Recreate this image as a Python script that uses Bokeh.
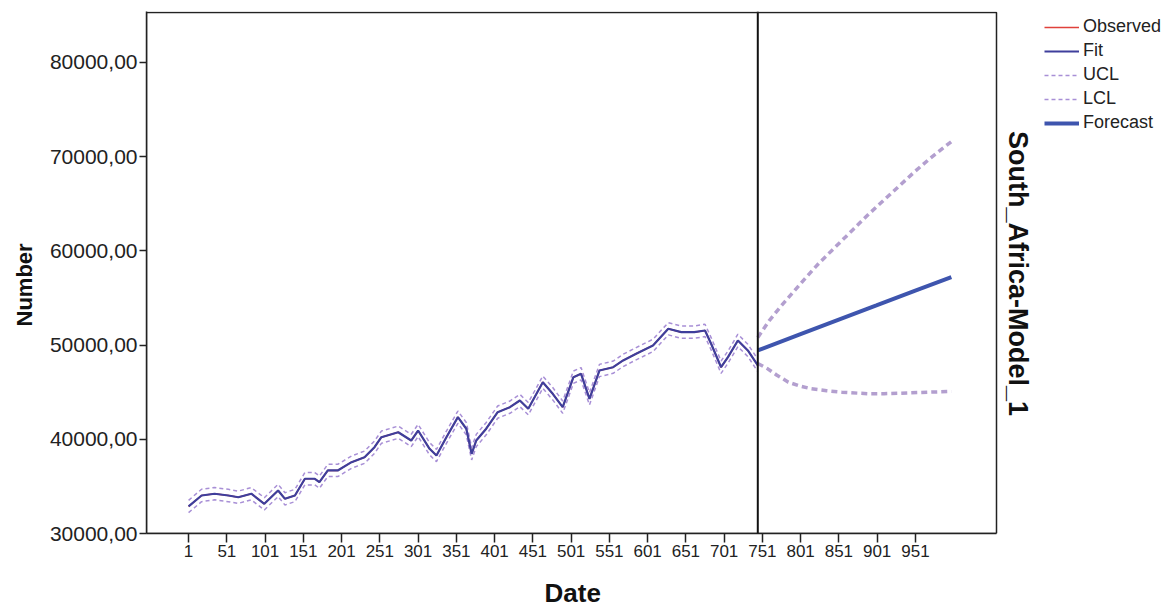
import math
from bokeh.plotting import figure
from bokeh.models import Range1d, FixedTicker, Span, Legend, LegendItem, Title, Label, BoxAnnotation
from bokeh.embed import file_html
from bokeh.resources import INLINE

# ---------------- data ----------------
hist_dates = [1, 18, 35, 53, 66, 83, 100, 118, 127, 140, 153, 166, 172, 183, 196, 214, 231, 244, 253, 275,
              292, 301, 316, 325, 338, 353, 364, 371, 377, 390, 405, 421, 434, 445, 464, 477, 490, 504, 514, 525,
              538, 556, 569, 586, 608, 628, 645, 662, 676, 684, 697, 706, 719, 732, 745]
observed = [32870, 34030, 34220, 34030, 33850, 34220, 33150, 34570, 33680, 34030, 35810, 35810, 35450, 36690,
            36690, 37570, 38100, 39160, 40220, 40750, 39870, 40930, 38990, 38280, 40220, 42350, 41120, 38460,
            39870, 41120, 42880, 43410, 44120, 43240, 46060, 44830, 43410, 46590, 46950, 44300, 47300, 47650,
            48370, 49080, 49960, 51730, 51370, 51370, 51550, 50140, 47650, 48720, 50490, 49430, 47840]
fit = [32870, 34030, 34220, 34030, 33850, 34220, 33150, 34570, 33680, 34030, 35810, 35810, 35450, 36690,
       36690, 37570, 38100, 39160, 40220, 40750, 39870, 40930, 38990, 38280, 40220, 42350, 41120, 38460,
       39870, 41120, 42880, 43410, 44120, 43240, 46060, 44830, 43410, 46590, 46950, 44300, 47300, 47650,
       48370, 49080, 49960, 51730, 51370, 51370, 51550, 50140, 47650, 48720, 50490, 49430, 47840]
ucl_hist = [33520, 34700, 34880, 34690, 34500, 34870, 33800, 35220, 34330, 34690, 36460, 36470, 36100, 37340,
            37350, 38220, 38750, 39820, 40870, 41400, 40530, 41580, 39650, 38930, 40870, 43000, 41780, 39110,
            40520, 41780, 43530, 44060, 44770, 43900, 46710, 45490, 44060, 47240, 47610, 44960, 47950, 48300,
            49030, 49730, 50620, 52380, 52030, 52020, 52210, 50790, 48310, 49370, 51150, 50080, 48500]
lcl_hist = [32220, 33380, 33570, 33380, 33200, 33570, 32500, 33920, 33030, 33380, 35160, 35160, 34800, 36040,
            36040, 36920, 37450, 38510, 39570, 40100, 39220, 40280, 38340, 37630, 39570, 41700, 40470, 37810,
            39220, 40470, 42230, 42760, 43470, 42590, 45410, 44180, 42760, 45940, 46300, 43650, 46650, 47000,
            47720, 48430, 49310, 51080, 50720, 50720, 50900, 49490, 47000, 48070, 49840, 48780, 47190]

fc_dates = [745, 800, 850, 900, 950, 998]
forecast = [49430, 51130, 52670, 54210, 55760, 57200]
ucl_fc_dates = [745, 760, 775, 790, 805, 825, 850, 870, 890, 910, 930, 950, 970, 998]
ucl_fc = [50800, 52600, 54100, 55500, 56900, 58700, 60700, 62300, 63900, 65400, 66900, 68400, 69800, 71600]
lcl_fc_dates = [745, 758, 770, 785, 800, 815, 835, 855, 875, 890, 910, 932, 955, 975, 998]
lcl_fc = [48050, 47480, 46800, 46060, 45650, 45360, 45150, 45000, 44900, 44830, 44840, 44890, 44960, 45020, 45080]

forecast_origin = 745
date_ticks = [1, 51, 101, 151, 201, 251, 301, 351, 401, 451, 501, 551, 601, 651, 701, 751, 801, 851, 901, 951]
y_ticks = [30000, 40000, 50000, 60000, 70000, 80000]
y_tick_labels = ["30000,00", "40000,00", "50000,00", "60000,00", "70000,00", "80000,00"]

# ---------------- layout constants ----------------
FONT = "Liberation Sans"
X0, X1 = -54, 1057          # visible plot box, data units
Y0, Y1 = 30000, 85300
BOX_W = 850                 # px of the plot box
FRAME_W = 1025              # frame also holds the legend and side title
PX_PER_X = BOX_W / (X1 - X0)
X_END = X0 + FRAME_W / PX_PER_X
PX_PER_Y = 521 / (Y1 - Y0)
Y_END = Y1 + 1 / PX_PER_Y   # one spare pixel above the box

p = figure(frame_width=FRAME_W, frame_height=522,
           x_range=Range1d(X0, X_END), y_range=Range1d(Y0, Y_END),
           output_backend="svg", toolbar_location=None,
           min_border_left=145, min_border_top=11, min_border_bottom=40, min_border_right=0,
           background_fill_color="white", border_fill_color="white")
p.grid.visible = False
p.outline_line_color = None

# plot box
p.add_layout(BoxAnnotation(left=X0, right=X1, bottom=Y0, top=Y1, fill_alpha=0,
                           line_color="#222222", line_alpha=1.0, line_width=1.5, level="overlay"))

# x axis
p.xaxis.bounds = (X0, X1)
p.xaxis.ticker = FixedTicker(ticks=date_ticks)
p.xaxis.minor_tick_line_color = None
p.xaxis.major_tick_in = 0
p.xaxis.major_tick_out = 9
p.xaxis.major_tick_line_width = 1.5
p.xaxis.major_tick_line_color = "#222222"
p.xaxis.axis_line_color = "#222222"
p.xaxis.axis_line_width = 1.5
p.xaxis.major_label_text_font = FONT
p.xaxis.major_label_text_font_size = "17px"
p.xaxis.major_label_text_color = "#222222"
p.xaxis.major_label_standoff = 2

# x axis title, centred under the plot box
p.add_layout(Title(text="Date", align="left", offset=398, standoff=33, text_font=FONT,
                   text_font_size="26px", text_font_style="bold", text_color="#111111"), "below")

# y axis
p.yaxis.ticker = FixedTicker(ticks=y_ticks)
p.yaxis.major_label_overrides = dict(zip(y_ticks, y_tick_labels))
p.yaxis.minor_tick_line_color = None
p.yaxis.major_tick_in = 0
p.yaxis.major_tick_out = 7
p.yaxis.major_tick_line_width = 1.5
p.yaxis.major_tick_line_color = "#222222"
p.yaxis.axis_line_color = "#222222"
p.yaxis.axis_line_width = 1.5
p.yaxis.major_label_text_font = FONT
p.yaxis.major_label_text_font_size = "21px"
p.yaxis.major_label_text_color = "#222222"
p.yaxis.major_label_standoff = 2

# y axis title, a little below the box centre as in the reference
p.add_layout(Title(text="Number", align="left", offset=207, standoff=19, text_font=FONT,
                   text_font_size="22px", text_font_style="bold", text_color="#111111"), "left")

# ---------------- series ----------------
band_color = "#a88fd6"
r_obs = p.line(hist_dates, observed, line_color="#e0413b", line_width=1.5)
r_ucl_h = p.line(hist_dates, ucl_hist, line_color=band_color, line_width=1.5, line_dash="4 3")
r_lcl_h = p.line(hist_dates, lcl_hist, line_color=band_color, line_width=1.5, line_dash="4 3")
r_fit = p.line(hist_dates, fit, line_color="#3f3f9c", line_width=2.2)
r_ucl_f = p.line(ucl_fc_dates, ucl_fc, line_color="#b39fcf", line_width=3.5, line_dash="6 4")
r_lcl_f = p.line(lcl_fc_dates, lcl_fc, line_color="#b39fcf", line_width=3.5, line_dash="6 4")
r_fc = p.line(fc_dates, forecast, line_color="#3e55ae", line_width=4)

p.add_layout(Span(location=forecast_origin, dimension="height", line_color="#111111", line_width=2))

# model title at the right of the box, reading top to bottom
title_x = X1 + 21 / PX_PER_X
title_y = Y1 - 261 / PX_PER_Y
p.add_layout(Label(x=title_x, y=title_y, text="South_Africa-Model_1", angle=-math.pi / 2,
                   text_align="center", text_baseline="middle", text_font=FONT,
                   text_font_size="27px", text_font_style="bold", text_color="#111111"))

# legend at the top right
legend = Legend(items=[
    LegendItem(label="Observed", renderers=[r_obs]),
    LegendItem(label="Fit", renderers=[r_fit]),
    LegendItem(label="UCL", renderers=[r_ucl_h]),
    LegendItem(label="LCL", renderers=[r_lcl_h]),
    LegendItem(label="Forecast", renderers=[r_fc]),
], location=(898, 400), label_text_font=FONT, label_text_font_size="18px", label_text_color="#222222",
    glyph_width=35, glyph_height=20, label_height=20, spacing=3, padding=2, margin=0,
    label_standoff=4, border_line_color=None, background_fill_alpha=0)
p.add_layout(legend, "center")

open("out.html", "w").write(file_html(p, INLINE))
